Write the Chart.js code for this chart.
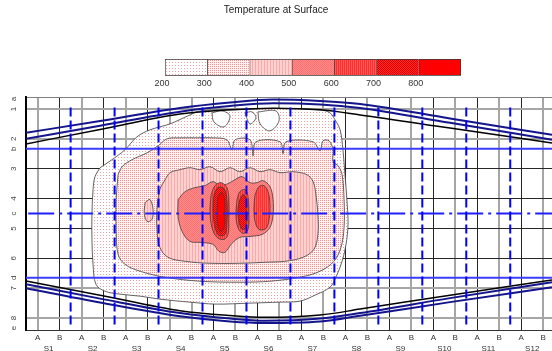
<!DOCTYPE html>
<html>
<head>
<meta charset="utf-8">
<title>Temperature at Surface</title>
<script src="https://cdn.jsdelivr.net/npm/chart.js@4.4.1/dist/chart.umd.min.js"></script>
<style>
  body { margin: 0; background: #fff; }
  #wrap { position: relative; width: 552px; height: 351px; }
  #wrap canvas { position: absolute; left: 0; }
</style>
</head>
<body>
<div id="wrap">
  <canvas id="plot" width="552" height="351" style="top:0"></canvas>
  <canvas id="bar" width="552" height="55" style="top:40px"></canvas>
</div>
<script>
// Chart data
const chartTitle = 'Temperature at Surface';
const levels = [200, 300, 400, 500, 600, 700, 800];
const levelCap = 900;
const sections = ['S1', 'S2', 'S3', 'S4', 'S5', 'S6', 'S7', 'S8', 'S9', 'S10', 'S11', 'S12'];
const stations = ['A', 'B'];
const rows = [1, 2, 3, 4, 5, 6, 7, 8];
const markNames = ['a', 'b', 'c', 'd', 'e'];
const markRows = [0.67, 2.33, 4.5, 6.65, 8.33];
const blueCols = [1.5, 3.5, 5.5, 7.5, 9.5, 11.5, 13.5, 15.5, 17.5, 19.5, 21.5];

// boundary curves (column, row)
const topOuter = [[-0.53, 1.8], [2.84, 1.4], [6.48, 0.967], [8.75, 0.783], [10.71, 0.683], [12.85, 0.733], [14.67, 0.833], [18.76, 1.317], [23.4, 1.867]];
const topInner = [[-0.53, 2.0], [2.84, 1.56], [6.48, 1.09], [8.75, 0.9], [10.71, 0.81], [12.85, 0.85], [14.67, 0.97], [18.76, 1.465], [23.4, 2.03]];
const topEdge = [[-0.53, 2.17], [2.84, 1.69], [6.48, 1.17], [8.75, 1.03], [10.71, 0.977], [12.85, 1.03], [14.67, 1.2], [18.76, 1.64], [23.4, 2.14]];
const botEdge = [[-0.53, 6.757], [2.84, 7.233], [6.48, 7.757], [8.75, 7.917], [10.34, 7.977], [12.85, 7.9], [14.67, 7.7], [18.76, 7.233], [23.4, 6.723]];
const botInner = [[-0.53, 6.867], [2.84, 7.35], [6.48, 7.833], [8.75, 8.017], [10.34, 8.09], [12.85, 8.017], [14.67, 7.833], [18.76, 7.333], [23.4, 6.8]];
const botOuter = [[-0.53, 7.0], [2.84, 7.48], [6.48, 7.943], [8.75, 8.117], [10.34, 8.167], [12.85, 8.117], [14.67, 7.923], [18.76, 7.467], [23.4, 6.967]];

// contour outlines, one list per temperature level
const level200 = [[[2.84, 2.967], [3.38, 2.7], [3.97, 2.367], [4.52, 1.933], [5.11, 1.7], [6.02, 1.5], [6.93, 1.2], [7.39, 1.067], [8.75, 1.033], [10.71, 0.983], [12.85, 1.033], [13.3, 1.133], [13.53, 1.367], [13.76, 1.7], [13.89, 2.367], [13.98, 3.2], [14.07, 4.033], [14.12, 4.867], [14.03, 5.533], [13.85, 6.1], [13.57, 6.633], [13.3, 6.967], [12.62, 7.233], [11.94, 7.433], [11.03, 7.467], [9.66, 7.5], [8.07, 7.533], [6.93, 7.467], [5.56, 7.367], [4.66, 7.267], [3.75, 7.2], [3.06, 7.1], [2.65, 6.867], [2.52, 6.2], [2.47, 5.367], [2.47, 4.533], [2.52, 3.7], [2.61, 3.267]]];
const below200 = [
  [[7.93, 1.133], [8.39, 1.067], [8.75, 1.233], [8.48, 1.6], [8.02, 1.433]],
  [[9.43, 1.133], [9.75, 1.1], [9.93, 1.3], [9.66, 1.5]],
  [[10.02, 1.1], [10.84, 1.067], [10.98, 1.4], [10.57, 1.733], [10.12, 1.5]]
];
const level300 = [[[3.66, 3.2], [3.84, 2.933], [4.29, 2.7], [4.98, 2.467], [5.48, 2.233], [5.88, 2.0], [6.48, 1.967], [7.25, 1.967], [7.98, 1.967], [8.61, 2.033], [8.84, 2.367], [8.98, 2.033], [9.66, 2.033], [9.8, 2.567], [9.93, 2.1], [11.03, 2.1], [11.16, 2.5], [11.3, 2.1], [12.53, 2.1], [12.85, 2.4], [12.98, 2.067], [13.26, 2.067], [13.44, 2.367], [13.44, 2.767], [13.67, 2.9], [13.85, 3.2], [13.94, 4.033], [13.94, 4.967], [13.8, 5.633], [13.48, 6.1], [12.85, 6.433], [11.94, 6.633], [10.57, 6.767], [9.2, 6.8], [7.39, 6.767], [5.79, 6.633], [4.66, 6.433], [3.97, 6.2], [3.66, 5.867], [3.57, 5.033], [3.57, 4.033]]];
const level400 = [
  [[5.8, 3.367], [6.02, 3.133], [6.48, 3.033], [6.93, 2.967], [7.39, 3.033], [7.84, 2.933], [8.3, 3.1], [8.75, 2.967], [9.2, 3.1], [9.66, 2.967], [10.12, 3.1], [10.57, 3.033], [11.03, 3.133], [11.62, 3.1], [12.25, 3.2], [12.53, 3.433], [12.66, 3.867], [12.75, 4.533], [12.75, 5.2], [12.57, 5.7], [12.07, 5.967], [11.25, 6.1], [10.34, 6.133], [9.2, 6.167], [7.84, 6.167], [6.71, 6.1], [5.93, 5.967], [5.56, 5.633], [5.43, 5.033], [5.43, 4.367], [5.56, 3.7]],
  [[4.89, 4.133], [5.11, 4.033], [5.25, 4.367], [5.2, 4.7], [4.98, 4.767], [4.85, 4.5]]
];
const level500 = [[[6.39, 4.033], [6.71, 3.767], [7.16, 3.633], [7.61, 3.567], [7.98, 3.433], [8.3, 3.567], [8.66, 3.5], [8.98, 3.367], [9.3, 3.267], [9.66, 3.467], [9.98, 3.467], [10.25, 3.4], [10.57, 3.6], [10.71, 4.033], [10.71, 4.533], [10.57, 4.967], [10.21, 5.2], [9.66, 5.267], [9.2, 5.3], [8.84, 5.5], [8.52, 5.8], [8.25, 5.767], [7.98, 5.533], [7.39, 5.467], [6.93, 5.433], [6.57, 5.1], [6.39, 4.6]]];
const level600 = [
  [[7.89, 3.867], [8.07, 3.567], [8.34, 3.467], [8.61, 3.633], [8.7, 4.033], [8.7, 4.7], [8.66, 5.2], [8.48, 5.367], [8.16, 5.3], [7.93, 4.967], [7.84, 4.433]],
  [[9.07, 4.033], [9.2, 3.767], [9.43, 3.7], [9.57, 3.933], [9.61, 4.533], [9.57, 5.033], [9.34, 5.167], [9.11, 4.967], [9.02, 4.533]],
  [[9.89, 3.867], [10.07, 3.6], [10.3, 3.567], [10.48, 3.767], [10.57, 4.2], [10.53, 4.7], [10.39, 5.0], [10.07, 5.033], [9.89, 4.767], [9.84, 4.3]]
];
const level700 = [
  [[8.02, 3.867], [8.2, 3.633], [8.48, 3.667], [8.61, 4.033], [8.61, 4.867], [8.52, 5.2], [8.25, 5.233], [8.07, 4.967], [7.98, 4.433]],
  [[9.2, 4.033], [9.34, 3.867], [9.48, 3.967], [9.52, 4.533], [9.48, 4.967], [9.3, 5.033], [9.16, 4.767], [9.11, 4.367]]
];
const level800 = [[[8.2, 3.967], [8.34, 3.8], [8.48, 3.933], [8.52, 4.433], [8.48, 4.967], [8.34, 5.1], [8.2, 4.933], [8.16, 4.433]]];

// axis ranges and line styles
const X_MIN = -0.53, X_MAX = 23.4, Y_MIN = 0.6, Y_MAX = 8.4;
const grayCols = [0, 2, 4, 6, 7, 9, 11, 13, 15, 17, 19, 21, 23];
const grayRows = [1, 2, 7, 8];

Chart.defaults.font.family = '"Liberation Sans", Arial, sans-serif';

// small dotted / striped fills like the original hatching
function makePattern(w, h, bg, fg, dots) {
  const c = document.createElement('canvas');
  c.width = w;
  c.height = h;
  const g = c.getContext('2d');
  g.fillStyle = bg;
  g.fillRect(0, 0, w, h);
  g.fillStyle = fg;
  dots.forEach(([x, y]) => g.fillRect(x, y, 1, 1));
  return g.createPattern(c, 'repeat');
}

const fills = [
  makePattern(3, 3, '#ffffff', '#f4a0a0', [[1, 1]]),
  makePattern(2, 2, '#fff0f0', '#f29494', [[0, 0]]),
  makePattern(3, 1, '#ffd2d2', '#ffa8a8', [[0, 0]]),
  makePattern(2, 2, '#ff8a8a', '#ff7272', [[0, 0], [1, 1]]),
  makePattern(2, 1, '#ff5a5a', '#ff3030', [[0, 0]]),
  makePattern(2, 2, '#ff2a2a', '#dc0000', [[0, 0], [1, 1]]),
  '#ff0000'
];

function pts(list) {
  return list.map(([x, y]) => ({ x, y }));
}

function contour(list, fill, order) {
  return {
    data: pts(list.concat([list[0]])),
    fill: 'shape',
    backgroundColor: fill,
    borderColor: '#3c3c3c',
    borderWidth: 0.8,
    tension: 0.35,
    pointRadius: 0,
    order
  };
}

function curve(list, color, width, order) {
  return {
    data: pts(list),
    borderColor: color,
    borderWidth: width,
    cubicInterpolationMode: 'monotone',
    pointRadius: 0,
    fill: false,
    order
  };
}

function straight(list, color, width, dash, order) {
  return { data: pts(list), borderColor: color, borderWidth: width, borderDash: dash, pointRadius: 0, fill: false, order };
}

const contourSets = [level200, level300, level400, level500, level600, level700, level800];
const datasets = [];
contourSets.forEach((set, i) => {
  set.forEach(shape => datasets.push(contour(shape, fills[i], 40 - 2 * i)));
});
below200.forEach(shape => datasets.push(contour(shape, '#ffffff', 39)));

const navy = '#14148c';
datasets.push(curve(topOuter, navy, 2, 6));
datasets.push(curve(topInner, navy, 2, 6));
datasets.push(curve(topEdge, '#000000', 1.5, 5));
datasets.push(curve(botEdge, '#000000', 1.5, 5));
datasets.push(curve(botInner, navy, 2, 6));
datasets.push(curve(botOuter, navy, 2, 6));

blueCols.forEach(c => datasets.push(straight([[c, 0.95], [c, 8.3]], '#0000ff', 2, [9, 4], 3)));
[markRows[1], markRows[3]].forEach(r => datasets.push(straight([[X_MIN, r], [X_MAX, r]], '#3c3cff', 2, [], 3)));
datasets.push(straight([[X_MIN + 0.1, markRows[2]], [X_MAX, markRows[2]]], '#1e1eff', 2, [26, 5, 3, 5], 3));

// tick positions
const xTicks = [];
for (let k = 0; k < sections.length * 2; k++) {
  xTicks.push(k);
  if (k % 2 === 0) xTicks.push(k + 0.5);
}
const yTicks = [Y_MIN].concat(rows, markRows).sort((a, b) => a - b);

new Chart(document.getElementById('plot'), {
  type: 'line',
  data: { datasets },
  options: {
    responsive: false,
    animation: false,
    events: [],
    layout: { padding: 0 },
    plugins: {
      legend: { display: false },
      tooltip: { enabled: false },
      title: {
        display: true,
        text: chartTitle,
        color: '#222',
        font: { size: 10, weight: 'normal' },
        padding: { top: 4, bottom: 81 }
      }
    },
    scales: {
      x: {
        type: 'linear',
        min: X_MIN,
        max: X_MAX,
        z: 1,
        afterBuildTicks: s => { s.ticks = xTicks.map(v => ({ value: v })); },
        afterFit: s => { s.height = 21; },
        ticks: {
          autoSkip: false,
          maxRotation: 0,
          padding: 2,
          color: '#333',
          font: { size: 8, lineHeight: 1.4 },
          callback: v => Number.isInteger(v) ? stations[v % 2] : ['', sections[Math.floor(v / 2)]]
        },
        grid: {
          drawTicks: false,
          color: c => !Number.isInteger(c.tick.value) ? 'rgba(0,0,0,0)' : (grayCols.includes(c.tick.value) ? '#a6a6a6' : '#262626'),
          lineWidth: c => grayCols.includes(c.tick.value) ? 2 : 1
        },
        border: { display: true, color: '#333', width: 1 }
      },
      y: {
        type: 'linear',
        reverse: true,
        min: Y_MIN,
        max: Y_MAX,
        z: 1,
        afterBuildTicks: s => { s.ticks = yTicks.map(v => ({ value: v })); },
        afterFit: s => { s.width = 26; },
        ticks: {
          autoSkip: false,
          minRotation: 90,
          maxRotation: 90,
          crossAlign: 'center',
          padding: 9.8,
          color: '#444',
          font: { size: 8 },
          callback: v => rows.includes(v) ? String(v) : (markRows.includes(v) ? markNames[markRows.indexOf(v)] : '')
        },
        grid: {
          drawTicks: false,
          color: c => {
            const v = c.tick.value;
            if (v === Y_MIN) return '#808080';
            if (!rows.includes(v)) return 'rgba(0,0,0,0)';
            return grayRows.includes(v) ? '#a6a6a6' : '#262626';
          },
          lineWidth: c => grayRows.includes(c.tick.value) ? 2 : 1
        },
        border: { display: true, color: '#000', width: 2 }
      }
    }
  }
});

// colour scale above the plot
new Chart(document.getElementById('bar'), {
  type: 'bar',
  data: {
    labels: [''],
    datasets: levels.map((lo, i) => ({
      data: [[lo, i < levels.length - 1 ? levels[i + 1] : levelCap]],
      backgroundColor: fills[i],
      borderColor: '#3a3a3a',
      borderWidth: { left: 1, top: 1, bottom: 1, right: i === levels.length - 1 ? 1 : 0 },
      borderSkipped: false,
      barPercentage: 1,
      categoryPercentage: 1,
      grouped: false
    }))
  },
  options: {
    indexAxis: 'y',
    responsive: false,
    animation: false,
    events: [],
    layout: { padding: { left: 165, right: 91, top: 19, bottom: 0 } },
    plugins: { legend: { display: false }, tooltip: { enabled: false } },
    scales: {
      x: {
        type: 'linear',
        min: levels[0],
        max: levelCap,
        afterBuildTicks: s => { s.ticks = levels.map(v => ({ value: v })); },
        afterFit: s => { s.height = 19.3; },
        ticks: { padding: 2, labelOffset: -3, color: '#333', font: { size: 9 } },
        grid: { display: false, drawTicks: false },
        border: { display: false }
      },
      y: { display: false }
    }
  }
});
</script>
</body>
</html>
